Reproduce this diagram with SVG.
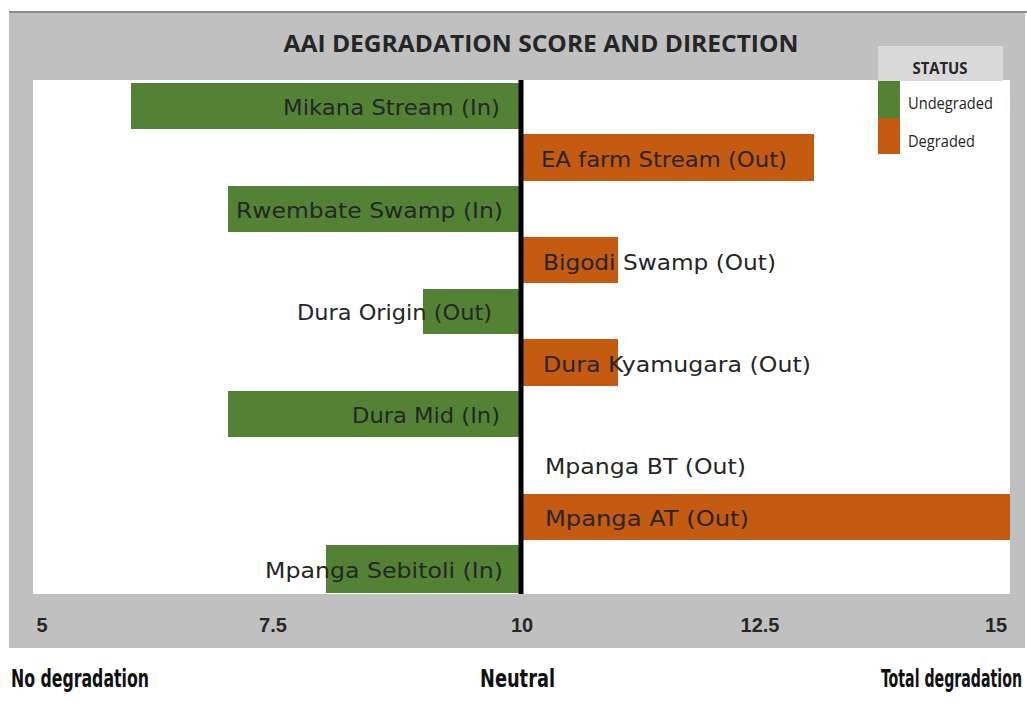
<svg xmlns="http://www.w3.org/2000/svg" width="1027" height="703" viewBox="0 0 1027 703">
  <style>
    .lbl { font-family: "DejaVu Sans", "Liberation Sans", sans-serif; font-size: 21px; fill: #262626; }
    .ax { font-family: "Liberation Sans", "DejaVu Sans", sans-serif; font-size: 20px; font-weight: bold; fill: #262626; text-anchor: middle; }
    .bot { font-family: "DejaVu Sans Condensed", "DejaVu Sans", sans-serif; font-size: 16px; font-weight: bold; fill: #111; }
    .leg { font-family: "Open Sans", "Liberation Sans", sans-serif; font-size: 17px; fill: #262626; }
    .g { fill: #548235; }
    .o { fill: #c55a11; }
  </style>
  <rect width="1027" height="703" fill="#ffffff"/>
  <!-- chart background -->
  <rect x="9" y="12" width="1016" height="636" fill="#c0c0c0"/>
  <line x1="9" y1="12" x2="1027" y2="12" stroke="#8c8c8c" stroke-width="2"/>
  <!-- plot area -->
  <rect x="33" y="80" width="977" height="514" fill="#ffffff"/>
  <!-- title -->
  <text x="541" y="52" font-family="Open Sans, Liberation Sans, sans-serif" font-size="23" font-weight="bold" fill="#262626" text-anchor="middle" textLength="515" lengthAdjust="spacingAndGlyphs">AAI DEGRADATION SCORE AND DIRECTION</text>

  <!-- legend -->
  <g id="legend">
    <rect x="878" y="46" width="125" height="35" fill="#dadada"/>
    <text x="940" y="74" font-family="Open Sans, Liberation Sans, sans-serif" font-size="16" font-weight="bold" fill="#262626" text-anchor="middle" textLength="55" lengthAdjust="spacingAndGlyphs">STATUS</text>
    <rect x="878" y="81" width="22" height="37" class="g"/>
    <rect x="878" y="118" width="22" height="36" class="o"/>
    <text x="908" y="109" class="leg" textLength="85" lengthAdjust="spacingAndGlyphs">Undegraded</text>
    <text x="908" y="147" class="leg" textLength="67" lengthAdjust="spacingAndGlyphs">Degraded</text>
  </g>

  <!-- bars -->
  <g id="bar-mikana">
    <rect x="131" y="83" width="388" height="46" class="g"/>
    <text x="283" y="115" class="lbl" textLength="217" lengthAdjust="spacingAndGlyphs">Mikana Stream (In)</text>
  </g>
  <g id="bar-eafarm">
    <rect x="523" y="134" width="291" height="47" class="o"/>
    <text x="541" y="167" class="lbl" textLength="246" lengthAdjust="spacingAndGlyphs">EA farm Stream (Out)</text>
  </g>
  <g id="bar-rwembate">
    <rect x="228" y="186" width="291" height="46" class="g"/>
    <text x="236" y="218" class="lbl" textLength="267" lengthAdjust="spacingAndGlyphs">Rwembate Swamp (In)</text>
  </g>
  <g id="bar-bigodi">
    <rect x="523" y="237" width="95" height="46" class="o"/>
    <text x="543" y="270" class="lbl" textLength="233" lengthAdjust="spacingAndGlyphs">Bigodi Swamp (Out)</text>
  </g>
  <g id="bar-duraorigin">
    <rect x="423" y="289" width="96" height="45" class="g"/>
    <text x="297" y="320" class="lbl" textLength="195" lengthAdjust="spacingAndGlyphs">Dura Origin  (Out)</text>
  </g>
  <g id="bar-kyamugara">
    <rect x="523" y="339" width="95" height="47" class="o"/>
    <text x="543" y="372" class="lbl" textLength="268" lengthAdjust="spacingAndGlyphs">Dura Kyamugara (Out)</text>
  </g>
  <g id="bar-duramid">
    <rect x="228" y="391" width="291" height="46" class="g"/>
    <text x="352" y="423" class="lbl" textLength="148" lengthAdjust="spacingAndGlyphs">Dura Mid  (In)</text>
  </g>
  <g id="bar-mpangabt">
    <text x="545" y="474" class="lbl" textLength="201" lengthAdjust="spacingAndGlyphs">Mpanga BT (Out)</text>
  </g>
  <g id="bar-mpangaat">
    <rect x="523" y="494" width="487" height="46" class="o"/>
    <text x="545" y="526" class="lbl" textLength="204" lengthAdjust="spacingAndGlyphs">Mpanga AT (Out)</text>
  </g>
  <g id="bar-sebitoli">
    <rect x="326" y="545" width="193" height="48" class="g"/>
    <text x="265" y="578" class="lbl" textLength="238" lengthAdjust="spacingAndGlyphs">Mpanga Sebitoli (In)</text>
  </g>

  <!-- neutral axis line -->
  <g id="connectors">
    <line x1="521" y1="80" x2="521" y2="594" stroke="#000000" stroke-width="5"/>
  </g>

  <!-- axis labels -->
  <g id="axis">
    <text x="42" y="632" class="ax">5</text>
    <text x="273" y="632" class="ax">7.5</text>
    <text x="522" y="632" class="ax">10</text>
    <text x="760" y="632" class="ax">12.5</text>
    <text x="996" y="632" class="ax">15</text>
  </g>

  <!-- bottom captions -->
  <text transform="translate(11,687) scale(1,1.55)" class="bot" textLength="138" lengthAdjust="spacingAndGlyphs">No degradation</text>
  <text transform="translate(480,687) scale(1,1.55)" class="bot" textLength="75" lengthAdjust="spacingAndGlyphs">Neutral</text>
  <text transform="translate(881,687) scale(1,1.55)" class="bot" textLength="141" lengthAdjust="spacingAndGlyphs">Total degradation</text>
</svg>
